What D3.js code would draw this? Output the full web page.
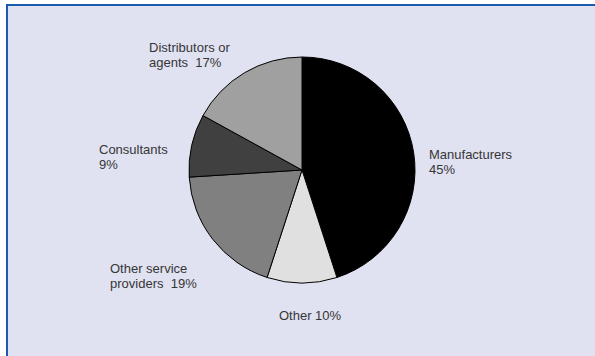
<!DOCTYPE html>
<html>
<head>
<meta charset="utf-8">
<script src="https://cdn.jsdelivr.net/npm/d3@7"></script>
<style>
  html, body { margin: 0; padding: 0; background: #ffffff; }
  svg { display: block; }
  text { font-family: "Liberation Sans", Arial, sans-serif; font-size: 13px; fill: #363636; white-space: pre; }
</style>
</head>
<body>
<script>
// Share of respondents by organisation type (per cent)
const categories = ["Manufacturers", "Other", "Other service providers", "Consultants", "Distributors or agents"];
const values = [45, 10, 19, 9, 17];
const sliceColors = ["#000000", "#e0e0e0", "#808080", "#404040", "#a0a0a0"];
// Label text, split over lines as printed
const labelLines = [
  ["Manufacturers", "45%"],
  ["Other 10%"],
  ["Other service", "providers  19%"],
  ["Consultants", "9%"],
  ["Distributors or", "agents  17%"]
];
// Anchor position (first-line baseline) of each label
const labelPos = [
  [429, 159],
  [279, 320],
  [110, 273],
  [99, 154],
  [149, 52]
];

const W = 595, H = 356;
const svg = d3.select("body").append("svg").attr("width", W).attr("height", H);

// Panel with blue top and left edges
svg.append("rect").attr("x", 6).attr("y", 4).attr("width", W - 6).attr("height", H - 4)
  .attr("fill", "#e0e1f1");
svg.append("line").attr("x1", 6).attr("x2", W).attr("y1", 5).attr("y2", 5)
  .attr("stroke", "#1a5bad").attr("stroke-width", 2);
svg.append("line").attr("x1", 7).attr("x2", 7).attr("y1", 4).attr("y2", H)
  .attr("stroke", "#1a5bad").attr("stroke-width", 2);

const cx = 302, cy = 170, r = 113;
const pie = d3.pie().value(d => d).sort(null);
const arc = d3.arc().innerRadius(0).outerRadius(r);

svg.append("g").attr("transform", `translate(${cx},${cy})`)
  .selectAll("path").data(pie(values)).join("path")
  .attr("d", arc)
  .attr("fill", (d, i) => sliceColors[i])
  .attr("stroke", "#000000")
  .attr("stroke-width", 1)
  .attr("stroke-linejoin", "round");

const labels = svg.append("g");
labelLines.forEach((lines, i) => {
  const t = labels.append("text")
    .attr("x", labelPos[i][0]).attr("y", labelPos[i][1])
    .attr("xml:space", "preserve");
  lines.forEach((ln, j) => {
    t.append("tspan").attr("x", labelPos[i][0]).attr("dy", j === 0 ? 0 : 15).text(ln);
  });
});
</script>
</body>
</html>
